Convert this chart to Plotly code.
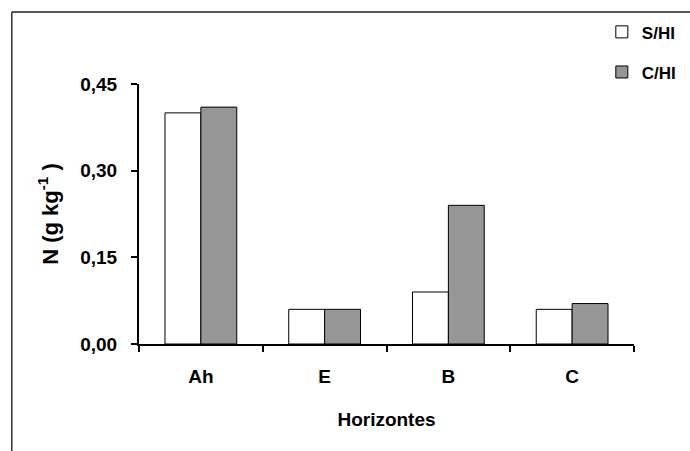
import plotly.graph_objects as go

horizontes = ["Ah", "E", "B", "C"]
s_hi = [0.40, 0.06, 0.09, 0.06]
c_hi = [0.41, 0.06, 0.24, 0.07]
y_ticks = [0.0, 0.15, 0.30, 0.45]

FONT = "Liberation Sans, Arial, sans-serif"

fig = go.Figure()
fig.add_trace(go.Bar(x=horizontes, y=s_hi, name="S/HI", legendgroup="a",
                     marker=dict(color="white", line=dict(color="black", width=1))))
fig.add_trace(go.Bar(x=horizontes, y=c_hi, name="C/HI", legendgroup="b",
                     marker=dict(color="#969696", line=dict(color="black", width=1))))

fig.update_layout(
    width=690, height=451,
    margin=dict(l=139, r=56, t=84, b=107, autoexpand=False),
    paper_bgcolor="white", plot_bgcolor="white",
    barmode="group", bargap=0.42, bargroupgap=0,
    separators=",.",
    font=dict(family=FONT, size=19, color="black", weight="bold"),
    legend=dict(x=0.935, y=1.268, xanchor="left", yanchor="top",
                font=dict(size=17, weight="bold"), traceorder="grouped",
                tracegroupgap=15, itemwidth=30, bgcolor="rgba(0,0,0,0)"),
    xaxis=dict(showline=True, linecolor="black", linewidth=2,
               ticks="outside", ticklen=6, tickwidth=2, tickcolor="black",
               tickson="boundaries", ticklabelstandoff=14,
               tickfont=dict(size=19, weight="bold"),
               title=dict(text="Horizontes", standoff=27,
                          font=dict(size=19, weight="bold"))),
    yaxis=dict(range=[0, 0.45], tickvals=y_ticks, tickformat=".2f",
               showline=True, linecolor="black", linewidth=2,
               ticks="outside", ticklen=6, tickwidth=2, tickcolor="black",
               showgrid=False, zeroline=False, ticklabelstandoff=10,
               tickfont=dict(size=19, weight="bold"),
               title=dict(text="N (g kg<sup>-1</sup> )", standoff=16,
                          font=dict(size=22, weight="bold"))),
    shapes=[
        dict(type="line", xref="paper", yref="paper",
             x0=-0.257, x1=2, y0=1.277, y1=1.277,
             line=dict(color="#222", width=1.5)),
        dict(type="line", xref="paper", yref="paper",
             x0=-0.257, x1=-0.257, y0=1.277, y1=-2,
             line=dict(color="#333", width=1.5)),
    ],
)

fig.write_html("out.html", config={"displayModeBar": False},
               post_script="document.body.style.margin='0px';document.body.style.overflow='hidden';")
